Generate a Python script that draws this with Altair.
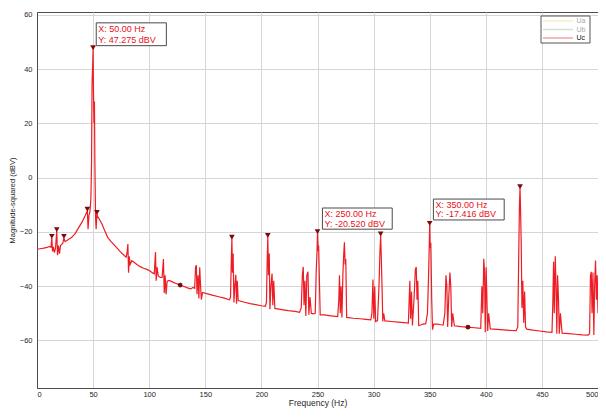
import altair as alt
import pandas as pd

# ---- spectrum of Uc (frequency in Hz, magnitude in dBV) ----
freq = [0, 3, 6, 9, 11, 12.5, 13.2, 13.8, 14.6, 15.5, 16.5, 17.6, 18.3, 19.2, 20.0, 21.0, 22.0, 23.0, 24.0, 25.0,
        28, 31, 34, 37, 40, 43, 44.9, 45.5, 46.3, 47.2, 48.0, 48.6, 49.1, 49.5, 50.0, 50.4, 50.8, 51.2, 51.6, 52.2,
        52.7, 53.4, 54, 56, 58, 60, 63, 66, 70, 74, 78, 79.5, 80.3, 81.0, 81.6, 82.2, 83.0, 84.5, 86, 89,
        92, 95, 98, 101, 103, 104.5, 105.6, 106.2, 107.0, 108.0, 110, 111.5, 112.7, 113.4, 114.2, 115.0, 116.0, 118, 121, 124,
        127.6, 131, 134, 137, 139, 140.5, 141.3, 142.0, 142.6, 143.5, 144.3, 145.0, 145.8, 146.5, 147.5, 152, 157, 162, 167, 171.5,
        172.5, 173.2, 173.7, 174.2, 174.8, 175.5, 176.3, 177.2, 177.8, 178.5, 179.3, 185, 190, 195, 200, 203.5, 204.5, 205.2, 205.7, 206.3,
        207.0, 207.6, 208.5, 209.5, 210.2, 211.0, 212.0, 218, 224, 230, 234, 235.5, 236.5, 237.3, 238.0, 238.8, 239.6, 240.5, 241.5, 242.3,
        243.3, 244.5, 246, 248, 248.8, 249.5, 250.0, 250.5, 251.0, 251.7, 252.4, 256, 262, 268, 269.0, 269.6, 270.3, 271.0, 271.8, 272.6,
        273.4, 274.0, 274.6, 275.2, 276.0, 282, 288, 293, 297.5, 298.5, 299.4, 300.2, 301.0, 301.8, 303.5, 304.8, 305.6, 306.3, 306.9, 307.5,
        308.2, 309.0, 310.0, 316, 322, 327, 331, 332.3, 333.0, 333.8, 334.6, 336.0, 337.2, 338.0, 338.7, 339.4, 340.2, 342, 344, 346.5,
        348.0, 349.0, 349.6, 350.0, 350.4, 351.0, 351.8, 352.5, 353.5, 357, 360, 362, 363.5, 364.5, 365.3, 366.0, 367.0, 368.0, 368.8, 369.6,
        370.5, 372, 378, 384.1, 390, 395.5, 396.5, 397.3, 398.2, 398.9, 399.5, 400.3, 401.0, 401.7, 402.5, 404, 410, 416, 422, 427,
        428.5, 429.3, 430.0, 430.5, 431.0, 431.6, 432.2, 433.0, 433.8, 434.6, 435.4, 436.5, 442, 448, 454, 459, 459.8, 460.4, 461.0, 461.9,
        462.6, 463.3, 464.0, 464.8, 465.5, 466.5, 468, 474, 480, 486, 491, 492.5, 493.3, 494.0, 494.7, 495.5, 496.3, 497.0, 497.8, 498.6,
        499.3, 500.0]
mag = [-26.4, -26.2, -26.0, -25.7, -25.4, -25.6, -22.2, -27.2, -25.5, -27.6, -26.0, -19.7, -28.6, -25.0, -28.0, -25.0, -24.6, -24.2, -22.2, -23.6,
       -22.8, -22.0, -20.6, -18.5, -16.5, -14.0, -12.2, -19.0, -14.0, -12.5, -8.0, 5.0, 35.0, 40.0, 47.275, 30.0, 20.0, 28.0, 5.0, -15.0,
       -19.0, -13.4, -14.3, -15.6, -17.2, -19.2, -22.0, -23.6, -25.3, -27.2, -28.8, -29.3, -27.5, -24.5, -35.0, -29.0, -32.0, -30.6, -31.0, -32.0,
       -32.8, -33.4, -33.8, -34.5, -35.1, -35.4, -27.4, -38.0, -33.0, -36.2, -36.8, -36.8, -30.0, -42.5, -36.0, -43.0, -38.2, -37.9, -38.5, -39.0,
       -39.6, -40.1, -40.6, -41.0, -40.5, -40.8, -33.0, -32.3, -43.0, -36.0, -44.5, -33.0, -40.0, -45.0, -42.3, -42.8, -43.4, -43.9, -44.4, -45.0,
       -44.0, -30.0, -22.5, -35.0, -28.0, -46.0, -40.0, -35.8, -46.5, -38.0, -45.3, -45.9, -46.4, -46.8, -47.2, -47.4, -46.0, -30.0, -21.9, -36.0,
       -28.0, -48.5, -40.0, -35.3, -47.0, -38.0, -48.2, -48.6, -49.0, -49.3, -49.6, -48.0, -36.0, -32.9, -47.0, -38.0, -51.0, -36.0, -34.7, -50.5,
       -44.0, -50.0, -50.2, -50.0, -35.0, -28.0, -20.52, -27.0, -25.0, -38.0, -50.6, -50.6, -50.9, -51.2, -45.0, -36.0, -50.0, -40.0, -51.5, -36.0,
       -28.0, -23.8, -32.0, -30.0, -51.5, -51.8, -52.0, -52.2, -52.4, -50.0, -37.5, -52.0, -40.0, -53.0, -52.7, -40.0, -28.0, -21.3, -30.0, -40.0,
       -53.0, -50.0, -52.8, -53.0, -53.2, -53.4, -53.6, -38.0, -52.0, -42.0, -54.5, -45.0, -34.0, -32.9, -45.0, -38.0, -54.5, -54.3, -54.0, -53.8,
       -50.0, -36.0, -25.0, -17.416, -26.0, -24.0, -45.0, -56.0, -54.0, -54.0, -54.2, -54.3, -50.0, -36.0, -40.0, -55.0, -44.0, -35.0, -40.0, -55.0,
       -50.0, -54.6, -54.9, -55.1, -55.3, -55.5, -40.0, -50.0, -29.9, -35.0, -57.0, -33.0, -45.0, -56.5, -50.0, -55.7, -55.9, -56.1, -56.3, -56.4,
       -55.0, -30.0, -10.0, -3.9, -12.0, -25.0, -48.0, -38.0, -53.5, -42.0, -55.0, -55.8, -56.2, -56.5, -56.8, -57.0, -45.0, -31.0, -50.0, -29.0,
       -40.0, -57.5, -36.0, -45.0, -57.5, -50.0, -57.3, -57.5, -57.7, -57.9, -58.0, -57.5, -36.0, -34.7, -50.0, -35.0, -58.0, -40.0, -30.5, -45.0,
       -36.0, -50.0]

# ---- peak markers (triangles) ----
peak_freq = [13.2, 17.6, 24.0, 44.9, 50.0, 53.4, 173.7, 205.7, 250.0, 306.3, 350.0, 430.5]
peak_mag = [-22.2, -19.7, -22.2, -12.2, 47.275, -13.4, -22.5, -21.9, -20.52, -21.3, -17.416, -3.9]

# ---- round markers ----
dot_freq = [127.6, 384.1]
dot_mag = [-39.6, -55.1]

# ---- data tips ----
tip_left = [52.8, 254.4, 353.3]
tip_right = [115.3, 316.6, 416.4]
tip_top = [57.0, -11.2, -7.9]
tip_bottom = [48.6, -19.0, -15.6]
tip_line1 = ["X: 50.00 Hz", "X: 250.00 Hz", "X: 350.00 Hz"]
tip_line2 = ["Y:  47.275 dBV", "Y: -20.520 dBV", "Y: -17.416 dBV"]

# ---- legend ----
legend_names = ["Ua", "Ub", "Uc"]
legend_rows = [0, 1, 2]
legend_colors = ["#f6f1c4", "#cfe2cf", "#f4a3a3"]
legend_label_colors = ["#a8a8a8", "#a8a8a8", "#111111"]

FONT = "Liberation Sans"
line_color = "#ee1c24"
ysc = alt.Scale(domain=[-77.5, 61], nice=False, zero=False)
xsc = alt.Scale(domain=[0, 500], nice=False, zero=False)

spec_df = pd.DataFrame({"f": freq, "m": mag})
peak_df = pd.DataFrame({"f": peak_freq, "m": peak_mag})
dot_df = pd.DataFrame({"f": dot_freq, "m": dot_mag})
tip_df = pd.DataFrame({"x0": tip_left, "x1": tip_right, "y0": tip_top, "y1": tip_bottom,
                       "l1": tip_line1, "l2": tip_line2})
leg_df = pd.DataFrame({"name": legend_names, "row": legend_rows,
                       "color": legend_colors, "lc": legend_label_colors})

line = alt.Chart(spec_df).mark_line(color=line_color, strokeWidth=1.2, clip=True).encode(
    x=alt.X("f:Q", scale=xsc, title="Frequency (Hz)",
            axis=alt.Axis(values=list(range(0, 501, 50)), labelPadding=2, titlePadding=1)),
    y=alt.Y("m:Q", scale=ysc, title="Magnitude-squared (dBV)",
            axis=alt.Axis(values=list(range(-60, 61, 20)), labelPadding=5, titlePadding=3,
                          titleFontSize=7.5)),
)

peaks = alt.Chart(peak_df).mark_point(shape="triangle-down", filled=True, color="#7d0a0a",
                                      size=32, opacity=1, yOffset=-1.5).encode(
    x=alt.X("f:Q", scale=xsc), y=alt.Y("m:Q", scale=ysc, axis=None))

dots = alt.Chart(dot_df).mark_point(shape="circle", filled=True, color="#7d0a0a",
                                    size=22, opacity=1).encode(
    x=alt.X("f:Q", scale=xsc), y=alt.Y("m:Q", scale=ysc, axis=None))

tip_box = alt.Chart(tip_df).mark_rect(fill="white", stroke="#4a4a4a", strokeWidth=1).encode(
    x=alt.X("x0:Q", scale=xsc), x2="x1:Q",
    y=alt.Y("y0:Q", scale=ysc, axis=None), y2="y1:Q")

tip_t1 = alt.Chart(tip_df).mark_text(align="left", baseline="middle", dx=2, dy=6,
                                     font=FONT, fontSize=9, color="#e8101a").encode(
    x=alt.X("x0:Q", scale=xsc), y=alt.Y("y0:Q", scale=ysc, axis=None), text="l1:N")

tip_t2 = alt.Chart(tip_df).mark_text(align="left", baseline="middle", dx=2, dy=-5.5,
                                     font=FONT, fontSize=9, color="#e8101a").encode(
    x=alt.X("x0:Q", scale=xsc), y=alt.Y("y1:Q", scale=ysc, axis=None), text="l2:N")

leg_y = alt.Scale(domain=[0, 2], range=[9.0, 26.0], nice=False, zero=False)

leg_box = alt.Chart(pd.DataFrame({"k": ["legend"]})).mark_rect(
    fill="white", stroke="#555555", strokeWidth=1).encode(
    x=alt.value(504), x2=alt.value(553), y=alt.value(4), y2=alt.value(31))

leg_lines = alt.Chart(leg_df).mark_rule(strokeWidth=1.5).encode(
    x=alt.value(506), x2=alt.value(536),
    y=alt.Y("row:Q", scale=leg_y, axis=None),
    color=alt.Color("color:N", scale=None))

leg_text = alt.Chart(leg_df).mark_text(align="left", baseline="middle", font=FONT, fontSize=7).encode(
    x=alt.value(539.5),
    y=alt.Y("row:Q", scale=leg_y, axis=None),
    text="name:N",
    color=alt.Color("lc:N", scale=None))

chart = alt.layer(line, peaks, dots, tip_box, tip_t1, tip_t2, leg_box, leg_lines, leg_text).resolve_scale(
    y="independent"
).properties(
    width=561, height=376,
    autosize=alt.AutoSizeParams(type="none"),
    padding={"left": 29, "top": 4, "right": 0, "bottom": 20},
    background="white",
).configure_view(
    stroke="#4d4d4d", strokeWidth=1
).configure_axis(
    labelFont=FONT, labelFontSize=7.5, labelColor="#262626",
    titleFont=FONT, titleFontSize=8.5, titleColor="#262626", titleFontWeight="normal",
    gridColor="#d6d6d6", gridWidth=1, domainColor="#4d4d4d", ticks=False,
)

chart.save("out.html", embed_options={"renderer": "svg", "actions": False})
